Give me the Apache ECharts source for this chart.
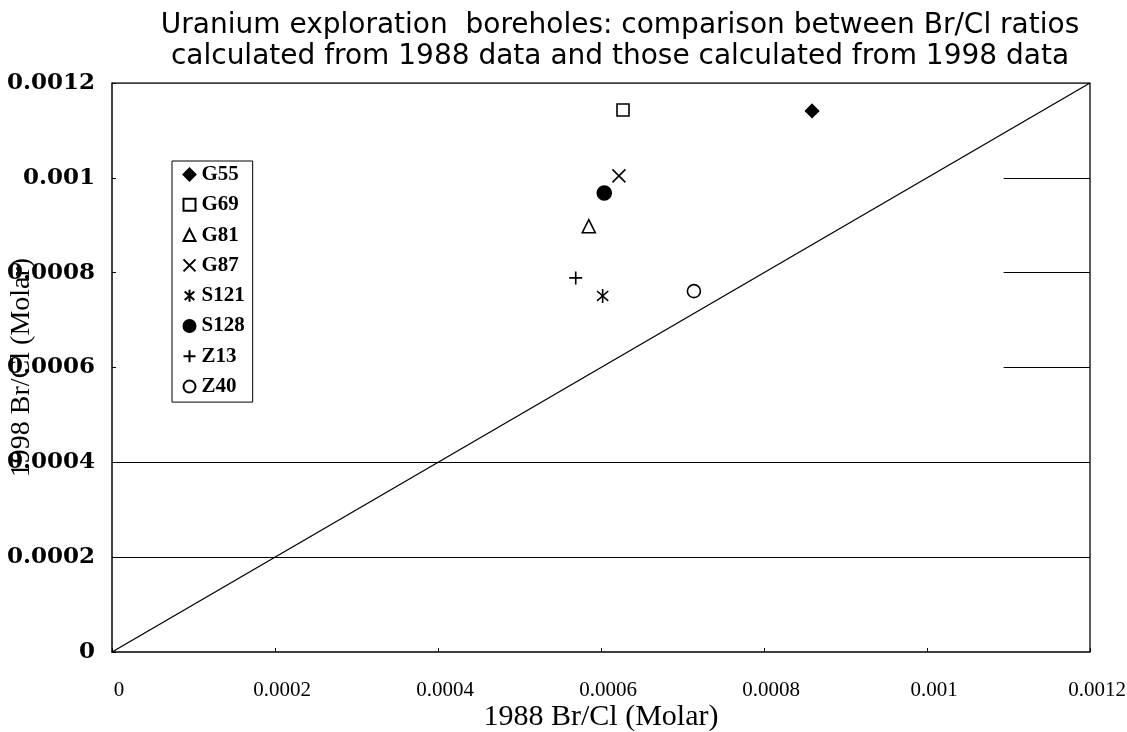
<!DOCTYPE html>
<html>
<head>
<meta charset="utf-8">
<script src="https://cdn.jsdelivr.net/npm/echarts@6/dist/echarts.min.js"></script>
<style>html,body{margin:0;padding:0;background:#fff}#c{width:1127px;height:732px}</style>
</head>
<body>
<div id="c"></div>
<script>
// ---- data ----
const seriesNames = ['G55', 'G69', 'G81', 'G87', 'S121', 'S128', 'Z13', 'Z40'];
const ratio1988 = [0.000859, 0.000627, 0.000585, 0.000622, 0.000602, 0.000604, 0.000569, 0.000714];
const ratio1998 = [0.001141, 0.001143, 0.000898, 0.001004, 0.000751, 0.000968, 0.000789, 0.000761];
const axisTickValues = [0, 0.0002, 0.0004, 0.0006, 0.0008, 0.001, 0.0012];
const fullGridY = [0.0002, 0.0004];
const stubGridY = [0.0006, 0.0008, 0.001];
const stubStartX = 0.001094;
const oneToOne = [[0, 0], [0.0012, 0.0012]];

const symbols = {
  G55: {symbol: 'diamond', size: 13, fill: '#000'},
  G69: {symbol: 'rect', size: 12, fill: '#fff'},
  G81: {symbol: 'triangle', size: 13, fill: '#fff'},
  G87: {symbol: 'path://M0,0L10,10M10,0L0,10', size: 13, fill: 'none'},
  S121: {symbol: 'path://M5,0L5,10M1,1.5L9,8.5M9,1.5L1,8.5', size: 14, fill: 'none'},
  S128: {symbol: 'circle', size: 14, fill: '#000'},
  Z13: {symbol: 'path://M5,0L5,10M0,5L10,5', size: 13, fill: 'none'},
  Z40: {symbol: 'circle', size: 13, fill: '#fff'}
};

const scatterSeries = seriesNames.map((n, i) => {
  const s = symbols[n];
  return {
    name: n,
    type: 'scatter',
    symbol: s.symbol,
    symbolSize: s.size,
    symbolKeepAspect: true,
    itemStyle: {color: s.fill, borderColor: '#000', borderWidth: 1.6, opacity: 1},
    emphasis: {disabled: true},
    data: [[ratio1988[i], ratio1998[i]]],
    z: 5
  };
});

const markData = [];
fullGridY.forEach(y => markData.push([{coord: [0, y]}, {coord: [0.0012, y]}]));
stubGridY.forEach(y => markData.push([{coord: [stubStartX, y]}, {coord: [0.0012, y]}]));

const serif = '"Liberation Serif", "Times New Roman", serif';
const fmt = v => String(axisTickValues.find(t => Math.abs(t - v) < 1e-9) ?? v);

const option = {
  animation: false,
  backgroundColor: '#fff',
  title: {
    text: 'Uranium exploration  boreholes: comparison between Br/Cl ratios\ncalculated from 1988 data and those calculated from 1998 data',
    left: 615, top: 5, textAlign: 'center',
    textStyle: {fontFamily: '"DejaVu Sans", sans-serif', fontSize: 28, fontWeight: 'normal', color: '#000', lineHeight: 31}
  },
  grid: {left: 112, right: 37, top: 83, bottom: 80, containLabel: false, outerBoundsMode: 'none'},
  legend: {
    data: seriesNames,
    orient: 'vertical',
    left: 172, top: 161,
    backgroundColor: '#fff',
    borderColor: '#000', borderWidth: 1,
    padding: [3, 8, 5, 9],
    itemWidth: 12, itemHeight: 12, itemGap: 9.3,
    textStyle: {fontFamily: serif, fontWeight: 'bold', fontSize: 21, color: '#000', lineHeight: 21, padding: [0, 0, 0, 1]},
    selectedMode: false
  },
  xAxis: {
    type: 'value', min: 0, max: 0.0012, interval: 0.0002,
    name: '1988 Br/Cl (Molar)', nameLocation: 'middle', nameGap: 50, nameMoveOverlap: false,
    nameTextStyle: {fontFamily: serif, fontSize: 30, color: '#000'},
    axisLine: {show: true, onZero: false, lineStyle: {color: '#000', width: 1.5}},
    axisTick: {show: true, inside: true, length: 4, lineStyle: {color: '#000'}},
    axisLabel: {margin: 28, fontFamily: serif, fontWeight: 'normal', fontSize: 21, color: '#000', padding: [0, 0, 0, 14], formatter: fmt},
    splitLine: {show: false}
  },
  yAxis: {
    type: 'value', min: 0, max: 0.0012, interval: 0.0002,
    name: '1998 Br/Cl (Molar)', nameLocation: 'middle', nameGap: 76, nameMoveOverlap: false,
    nameTextStyle: {fontFamily: serif, fontSize: 28, color: '#000'},
    axisLine: {show: true, onZero: false, lineStyle: {color: '#000', width: 1.5}},
    axisTick: {show: true, inside: true, length: 4, lineStyle: {color: '#000'}},
    axisLabel: {margin: 17, fontFamily: '"DejaVu Serif", serif', fontWeight: 'bold', fontSize: 23, color: '#000', formatter: fmt},
    splitLine: {show: false}
  },
  series: [
    {
      name: '1:1', type: 'line', data: oneToOne, symbol: 'none',
      lineStyle: {color: '#000', width: 1.3}, silent: true, z: 3,
      markLine: {
        symbol: 'none', silent: true, label: {show: false},
        lineStyle: {color: '#000', width: 1, type: 'solid'},
        data: markData
      }
    },
    {
      name: 'frame', type: 'line', data: [[0.0012, 0], [0.0012, 0.0012], [0, 0.0012]], symbol: 'none',
      lineStyle: {color: '#000', width: 1.3}, silent: true, z: 2
    },
    ...scatterSeries
  ]
};

echarts.init(document.getElementById('c'), null, {renderer: 'canvas'}).setOption(option);
</script>
</body>
</html>
